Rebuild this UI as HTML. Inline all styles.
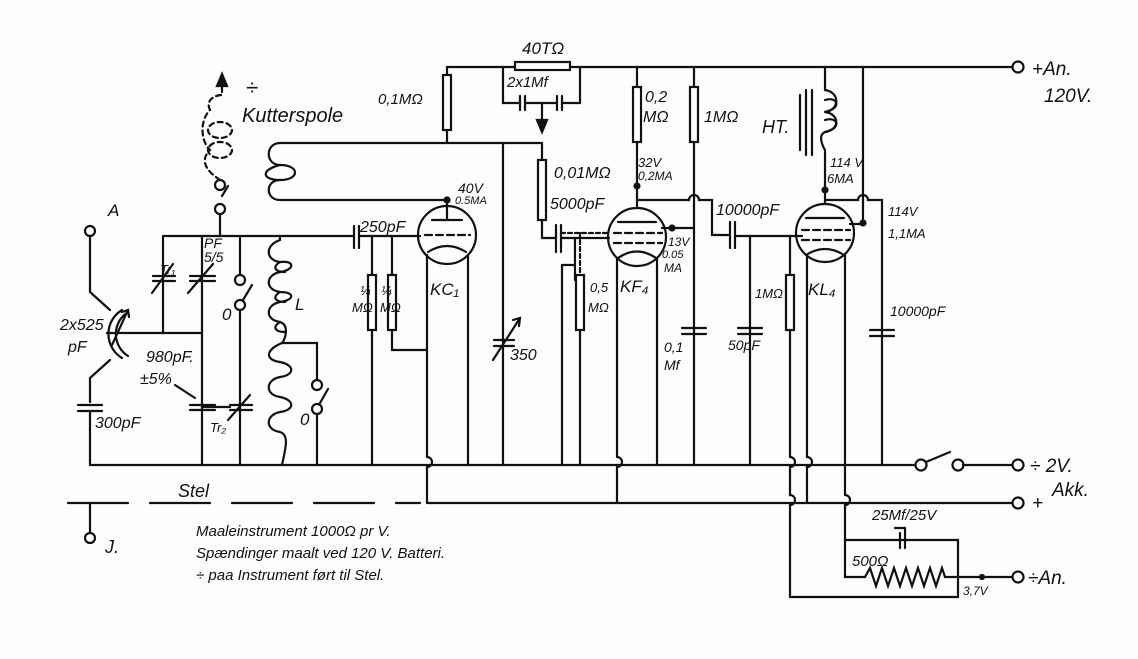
<!DOCTYPE html>
<html><head><meta charset="utf-8"><style>
html,body{margin:0;padding:0;background:#fff;}
svg{display:block}
text{font-family:"Liberation Sans",sans-serif;font-style:italic;fill:#111;}
</style></head><body>
<svg width="1138" height="659" viewBox="0 0 1138 659" xmlns="http://www.w3.org/2000/svg">
<rect width="1138" height="659" fill="#fdfdfd"/>
<g stroke="#111" stroke-width="2.2" fill="none" stroke-linecap="round">
<!-- top rail -->
<line x1="447" y1="67" x2="1012" y2="67"/>
<circle cx="1018" cy="67" r="5.5"/>
<!-- 40T resistor and box -->
<rect x="515" y="62" width="55" height="8" fill="#fff"/>
<polyline points="503,67 503,103 520,103"/>
<polyline points="580,67 580,103 563,103"/>
<line x1="520" y1="96" x2="520" y2="110"/><line x1="525" y1="96" x2="525" y2="110"/>
<line x1="525" y1="103" x2="557" y2="103"/>
<line x1="557" y1="96" x2="557" y2="110"/><line x1="562" y1="96" x2="562" y2="110"/>
<line x1="542" y1="103" x2="542" y2="128"/>
<polygon points="537,120 547,120 542,132" fill="#111"/>
<!-- 0.1M resistor -->
<line x1="447" y1="67" x2="447" y2="143"/>
<rect x="443" y="75" width="8" height="55" fill="#fff"/>
<!-- coupling coil -->
<line x1="280" y1="143" x2="542" y2="143"/>
<line x1="280" y1="200" x2="447" y2="200"/>
<path d="M280,143 C265,143 265,165 280,165 C300,165 300,180 280,180 C265,180 265,200 280,200"/>
<path d="M280,165 C260,170 262,180 280,180"/>
<line x1="503" y1="143" x2="503" y2="465"/>
<line x1="494" y1="340" x2="514" y2="340"/><line x1="494" y1="346" x2="514" y2="346"/>
<line x1="493" y1="360" x2="520" y2="318"/><polyline points="513,320 520,318 519,326"/>
<!-- 0.01M resistor -->
<line x1="542" y1="143" x2="542" y2="238"/>
<rect x="538" y="160" width="8" height="60" fill="#fff"/>
<line x1="542" y1="238" x2="556" y2="238"/>
<line x1="556" y1="225" x2="556" y2="252"/><line x1="561" y1="225" x2="561" y2="252"/>
<line x1="561" y1="238" x2="609" y2="238"/>
<line x1="561" y1="233" x2="609" y2="233" stroke-dasharray="4,3"/>
<line x1="580" y1="233" x2="580" y2="280" stroke-dasharray="4,3"/>
<line x1="575" y1="238" x2="575" y2="280"/>
<line x1="580" y1="280" x2="580" y2="330"/>
<rect x="576" y="275" width="8" height="55" fill="#fff"/>
<polyline points="580,330 580,465"/>
<line x1="562" y1="265" x2="562" y2="465"/>
<line x1="562" y1="265" x2="575" y2="265"/>
<!-- KC tube -->
<circle cx="447" cy="235" r="29"/>
<line x1="447" y1="200" x2="447" y2="220"/>
<line x1="432" y1="220" x2="462" y2="220"/>
<line x1="425" y1="235" x2="470" y2="235" stroke-dasharray="7,4"/>
<path d="M428,252 Q447,240 466,252"/>
<line x1="427" y1="255" x2="427" y2="457"/><path d="M427,457 a5,5 0 0 1 0,10 L427,503"/>
<line x1="468" y1="255" x2="468" y2="465"/>
<circle cx="447" cy="200" r="2.5" fill="#111"/>
<!-- input circuit -->
<line x1="163" y1="236" x2="354" y2="236"/>
<line x1="354" y1="226" x2="354" y2="248"/><line x1="359" y1="226" x2="359" y2="248"/>
<line x1="359" y1="236" x2="420" y2="236"/>
<line x1="163" y1="236" x2="163" y2="333"/>
<line x1="153" y1="276" x2="175" y2="276"/><line x1="153" y1="281" x2="175" y2="281"/>
<line x1="152" y1="293" x2="173" y2="264"/>
<line x1="202" y1="236" x2="202" y2="465"/>
<line x1="190" y1="276" x2="215" y2="276"/><line x1="190" y1="281" x2="215" y2="281"/>
<line x1="188" y1="293" x2="213" y2="264"/>
<line x1="190" y1="405" x2="215" y2="405"/><line x1="190" y1="410" x2="215" y2="410"/>
<line x1="175" y1="385" x2="195" y2="398"/>
<line x1="107" y1="333" x2="202" y2="333"/>
<line x1="240" y1="236" x2="240" y2="275"/><circle cx="240" cy="280" r="5"/>
<line x1="243" y1="300" x2="252" y2="285"/>
<circle cx="240" cy="305" r="5"/><line x1="240" y1="310" x2="240" y2="465"/>
<line x1="230" y1="405" x2="252" y2="405"/><line x1="230" y1="410" x2="252" y2="410"/>
<line x1="228" y1="420" x2="250" y2="395"/>
<line x1="202" y1="407" x2="230" y2="407"/>
<!-- kutterspole -->
<line x1="220" y1="236" x2="220" y2="214"/><circle cx="220" cy="209" r="5"/>
<line x1="222" y1="196" x2="228" y2="186"/><circle cx="220" cy="185" r="5"/>
<path d="M220,180 C205,170 200,160 210,150 C200,140 200,120 210,110 C205,100 215,95 222,95 L222,85" stroke-dasharray="5,4"/>
<ellipse cx="220" cy="130" rx="12" ry="8" stroke-dasharray="5,4"/>
<ellipse cx="220" cy="150" rx="12" ry="8" stroke-dasharray="5,4"/>
<polygon points="217,86 227,86 222,74" fill="#111"/>
<!-- coil L -->
<line x1="280" y1="236" x2="280" y2="240"/>
<path d="M280,240 C265,245 265,260 280,262 C295,260 295,270 280,272 C265,275 265,290 280,292 C295,292 295,300 280,302 C265,305 265,320 280,322 C290,325 285,340 282,343"/>
<path d="M280,262 c-8,5 -5,10 5,10 M280,292 c-8,5 -5,10 5,10 M280,322 c-8,5 -5,10 5,10"/>
<polyline points="282,343 317,343 317,380"/>
<path d="M282,343 C265,350 265,360 280,362 C295,365 295,375 280,377 C265,380 265,395 280,397 C295,400 295,410 280,412 C265,415 265,430 280,432 C290,435 285,450 282,465"/>
<circle cx="317" cy="385" r="5"/><line x1="320" y1="403" x2="328" y2="389"/><circle cx="317" cy="409" r="5"/>
<line x1="317" y1="414" x2="317" y2="465"/>
<!-- grid resistors -->
<line x1="372" y1="236" x2="372" y2="465"/><rect x="368" y="275" width="8" height="55" fill="#fff"/>
<line x1="392" y1="236" x2="392" y2="350"/><rect x="388" y="275" width="8" height="55" fill="#fff"/>
<line x1="392" y1="350" x2="427" y2="350"/>
<!-- antenna -->
<circle cx="90" cy="231" r="5"/>
<polyline points="90,236 90,292 110,310"/>
<polyline points="110,360 90,378 90,402"/>
<path d="M122,310 A28,28 0 0 0 122,358"/><path d="M128,312 A26,26 0 0 0 128,356"/>
<line x1="108" y1="333" x2="107" y2="333"/>
<line x1="112" y1="345" x2="128" y2="310"/><polyline points="122,312 128,310 129,317"/>
<line x1="78" y1="405" x2="102" y2="405"/><line x1="78" y1="411" x2="102" y2="411"/>
<line x1="90" y1="411" x2="90" y2="465"/>
<line x1="90" y1="503" x2="90" y2="532"/><circle cx="90" cy="538" r="5"/>
<!-- bottom rails -->
<line x1="90" y1="465" x2="915" y2="465"/>
<circle cx="921" cy="465" r="5.5"/><line x1="926" y1="462" x2="950" y2="452"/><circle cx="958" cy="465" r="5.5"/>
<line x1="963" y1="465" x2="1012" y2="465"/><circle cx="1018" cy="465" r="5.5"/>
<g stroke-dasharray="60,22"><line x1="68" y1="503" x2="420" y2="503"/></g>
<line x1="427" y1="503" x2="1012" y2="503"/><circle cx="1018" cy="503" r="5.5"/>
<!-- KF tube -->
<circle cx="637" cy="237" r="29"/>
<line x1="618" y1="222" x2="656" y2="222"/>
<line x1="614" y1="233" x2="662" y2="233" stroke-dasharray="7,4"/>
<line x1="614" y1="243" x2="662" y2="243" stroke-dasharray="7,4"/>
<path d="M618,258 Q637,245 656,258"/>
<line x1="637" y1="67" x2="637" y2="208"/><rect x="633" y="87" width="8" height="55" fill="#fff"/>
<circle cx="637" cy="186" r="2.5" fill="#111"/>
<line x1="617" y1="258" x2="617" y2="457"/><path d="M617,457 a5,5 0 0 1 0,10 L617,503"/>
<line x1="657" y1="258" x2="657" y2="465"/>
<line x1="662" y1="228" x2="693" y2="228"/><circle cx="672" cy="228" r="2.5" fill="#111"/>
<line x1="694" y1="67" x2="694" y2="465"/><rect x="690" y="87" width="8" height="55" fill="#fff"/>
<path d="M637,200 L689,200 a5,5 0 0 1 10,0 L712,200 L712,235 L730,235"/>
<line x1="730" y1="222" x2="730" y2="248"/><line x1="735" y1="222" x2="735" y2="248"/>
<line x1="735" y1="236" x2="802" y2="236"/>
<line x1="682" y1="328" x2="706" y2="328"/><line x1="682" y1="334" x2="706" y2="334"/>
<line x1="750" y1="236" x2="750" y2="465"/>
<line x1="738" y1="328" x2="762" y2="328"/><line x1="738" y1="334" x2="762" y2="334"/>
<line x1="790" y1="236" x2="790" y2="457"/><rect x="786" y="275" width="8" height="55" fill="#fff"/>
<path d="M790,457 a5,5 0 0 1 0,10 L790,495 a5,5 0 0 1 0,10 L790,597 L958,597 L958,540 L845,540"/>
<!-- KL tube -->
<circle cx="825" cy="233" r="29"/>
<line x1="806" y1="218" x2="844" y2="218"/>
<line x1="802" y1="230" x2="850" y2="230" stroke-dasharray="7,4"/>
<line x1="802" y1="240" x2="850" y2="240" stroke-dasharray="7,4"/>
<path d="M806,255 Q825,243 844,255"/>
<line x1="807" y1="255" x2="807" y2="457"/><path d="M807,457 a5,5 0 0 1 0,10 L807,503"/>
<line x1="845" y1="255" x2="845" y2="495"/><path d="M845,495 a5,5 0 0 1 0,10 L845,577 L865,577"/>
<line x1="825" y1="67" x2="825" y2="90"/>
<path d="M825,90 C840,92 840,110 825,112 C840,114 840,130 825,132 C818,135 822,145 825,150 L825,204"/>
<path d="M825,100 c12,-4 18,8 0,12 M825,120 c12,-4 18,8 0,12"/>
<line x1="812" y1="90" x2="812" y2="155"/><line x1="806" y1="90" x2="806" y2="155"/><line x1="800" y1="95" x2="800" y2="150"/>
<circle cx="825" cy="190" r="2.5" fill="#111"/>
<line x1="863" y1="67" x2="863" y2="195"/><path d="M863,195 L863,224 L850,224"/>
<circle cx="863" cy="223" r="2.5" fill="#111"/>
<path d="M825,200 L858,200 a5,5 0 0 1 10,0 L882,200 L882,465"/>
<line x1="870" y1="330" x2="894" y2="330"/><line x1="870" y1="336" x2="894" y2="336"/>
<!-- cathode network -->
<line x1="895" y1="528" x2="905" y2="528"/><line x1="905" y1="528" x2="905" y2="548"/><line x1="900" y1="533" x2="900" y2="548"/>
<polyline points="865,577 870,568 876,586 882,568 888,586 894,568 900,586 906,568 912,586 918,568 924,586 930,568 936,586 942,568 945,577"/>
<line x1="945" y1="577" x2="1012" y2="577"/><circle cx="1018" cy="577" r="5.5"/>
<circle cx="982" cy="577" r="2" fill="#111"/>
</g>
<g font-size="17">
<text x="522" y="54">40TΩ</text>
<text x="507" y="87" font-size="15">2x1Mf</text>
<text x="378" y="104" font-size="15">0,1MΩ</text>
<text x="242" y="122" font-size="20">Kutterspole</text>
<text x="246" y="95" font-size="22" font-style="normal">÷</text>
<text x="108" y="216">A</text>
<text x="160" y="274" font-size="13">Tr₁</text>
<text x="204" y="248" font-size="14">PF</text>
<text x="204" y="262" font-size="14">5/5</text>
<text x="222" y="320">0</text>
<text x="295" y="310">L</text>
<text x="300" y="425">0</text>
<text x="360" y="232" font-size="16">250pF</text>
<text x="458" y="193" font-size="14">40V</text>
<text x="455" y="204" font-size="11">0.5MA</text>
<text x="430" y="295">KC₁</text>
<text x="360" y="295" font-size="13">¼</text><text x="352" y="312" font-size="13">MΩ</text>
<text x="381" y="295" font-size="13">¼</text><text x="380" y="312" font-size="13">MΩ</text>
<text x="60" y="330" font-size="16">2x525</text>
<text x="68" y="352" font-size="16">pF</text>
<text x="146" y="362" font-size="16">980pF.</text>
<text x="140" y="384" font-size="16">±5%</text>
<text x="95" y="428" font-size="16">300pF</text>
<text x="210" y="432" font-size="13">Tr₂</text>
<text x="510" y="360" font-size="16">350</text>
<text x="554" y="178" font-size="16">0,01MΩ</text>
<text x="550" y="209" font-size="16">5000pF</text>
<text x="645" y="102" font-size="16">0,2</text>
<text x="643" y="122" font-size="16">MΩ</text>
<text x="704" y="122" font-size="16">1MΩ</text>
<text x="638" y="167" font-size="13">32V</text>
<text x="638" y="180" font-size="12">0,2MA</text>
<text x="668" y="246" font-size="12">13V</text>
<text x="662" y="258" font-size="11">0.05</text>
<text x="664" y="272" font-size="12">MA</text>
<text x="590" y="292" font-size="13">0,5</text>
<text x="588" y="312" font-size="13">MΩ</text>
<text x="620" y="292">KF₄</text>
<text x="664" y="352" font-size="14">0,1</text>
<text x="664" y="370" font-size="14">Mf</text>
<text x="728" y="350" font-size="14">50pF</text>
<text x="755" y="298" font-size="13">1MΩ</text>
<text x="808" y="295">KL₄</text>
<text x="716" y="215" font-size="16">10000pF</text>
<text x="762" y="133" font-size="18">HT.</text>
<text x="830" y="167" font-size="13">114 V</text>
<text x="827" y="183" font-size="13">6MA</text>
<text x="888" y="216" font-size="13">114V</text>
<text x="888" y="238" font-size="13">1,1MA</text>
<text x="890" y="316" font-size="14">10000pF</text>
<text x="1032" y="75" font-size="19">+An.</text>
<text x="1044" y="102" font-size="19">120V.</text>
<text x="1030" y="472" font-size="19">÷ 2V.</text>
<text x="1032" y="509" font-size="19">+</text>
<text x="1052" y="496" font-size="19">Akk.</text>
<text x="1028" y="584" font-size="19">÷An.</text>
<text x="872" y="520" font-size="15">25Mf/25V</text>
<text x="852" y="566" font-size="15">500Ω</text>
<text x="963" y="595" font-size="12">3,7V</text>
<text x="178" y="497" font-size="18">Stel</text>
<text x="105" y="553" font-size="18">J.</text>
<text x="196" y="536" font-size="15">Maaleinstrument 1000Ω pr V.</text>
<text x="196" y="558" font-size="15">Spændinger maalt ved 120 V. Batteri.</text>
<text x="196" y="580" font-size="15">÷ paa Instrument ført til Stel.</text>
</g>
</svg>
</body></html>
